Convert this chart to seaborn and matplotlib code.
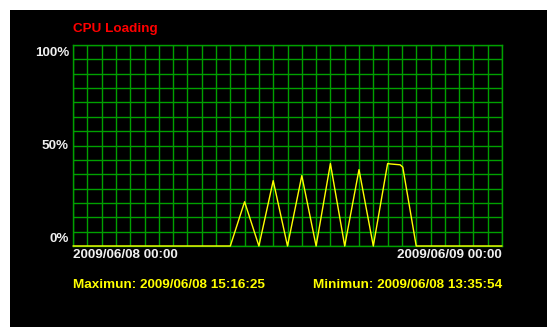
import numpy as np
import pandas as pd
import matplotlib
matplotlib.use("Agg")
import matplotlib.pyplot as plt
import seaborn as sns

# CPU load samples over one day (hours since 2009/06/08 00:00, percent)
hours = [0.0, 8.8, 9.6, 10.4, 11.2, 12.0, 12.8, 13.6, 14.4, 15.2, 16.0,
         16.8, 17.6, 17.78, 18.3, 18.45, 19.2, 24.0]
load = [0.0, 0.0, 22.0, 0.0, 32.5, 0.0, 35.0, 0.0, 41.0, 0.0, 38.0,
        0.0, 41.0, 40.8, 40.4, 39.2, 0.0, 0.0]

title = "CPU Loading"
y_labels = ["100%", "50%", "0%"]
x_labels = ["2009/06/08 00:00", "2009/06/09 00:00"]
max_text = "Maximun: 2009/06/08 15:16:25"
min_text = "Minimun: 2009/06/08 13:35:54"

df = pd.DataFrame({"hour": hours, "load": load})

sns.set_style("dark")
plt.rcParams["font.family"] = ["Liberation Sans", "DejaVu Sans"]

W, H = 547, 327
fig = plt.figure(figsize=(W / 100, H / 100), dpi=100, facecolor="white")

# black panel inside a thin white margin
fig.patches.append(plt.Rectangle((10 / W, 0), 1 - 10 / W, 1 - 10 / H,
                                 transform=fig.transFigure, facecolor="black",
                                 edgecolor="none", zorder=-10))

left, right, top, bottom = 73, 502, 45, 246
ax = fig.add_axes([left / W, 1 - bottom / H, (right - left) / W, (bottom - top) / H])
ax.set_zorder(2)
ax.set_facecolor("black")

grid_c = "#00a000"
ax.set_xlim(0, 24)
ax.set_ylim(0, 100)
ax.set_xticks(np.linspace(0, 24, 31))
ax.set_yticks(np.linspace(0, 100, 15))
ax.tick_params(length=0, labelbottom=False, labelleft=False)
ax.grid(True, color=grid_c, linewidth=1.0)
for s in ax.spines.values():
    s.set_color(grid_c)
    s.set_linewidth(1.0)

sns.lineplot(data=df, x="hour", y="load", ax=ax, color="#ffff00",
             linewidth=1.0, clip_on=False, zorder=5)
ax.set_xlabel("")
ax.set_ylabel("")

fs = 9.7
def ftxt(x, y, s, color, ha="left"):
    fig.text(x / W, 1 - y / H, s, color=color, ha=ha, va="center",
             fontsize=fs, fontweight="bold", zorder=3)

ftxt(73, 29, title, "#ff0000")
ftxt(69, 53, y_labels[0], "#f0f0f0", ha="right")
ftxt(69, 146, y_labels[1], "#f0f0f0", ha="right")
ftxt(69, 239.5, y_labels[2], "#f0f0f0", ha="right")
ftxt(73, 255, x_labels[0], "#f0f0f0")
ftxt(502, 255, x_labels[1], "#f0f0f0", ha="right")
ftxt(73, 285, max_text, "#ffff00")
ftxt(502, 285, min_text, "#ffff00", ha="right")

fig.savefig("out.png", dpi=100, facecolor="white")
